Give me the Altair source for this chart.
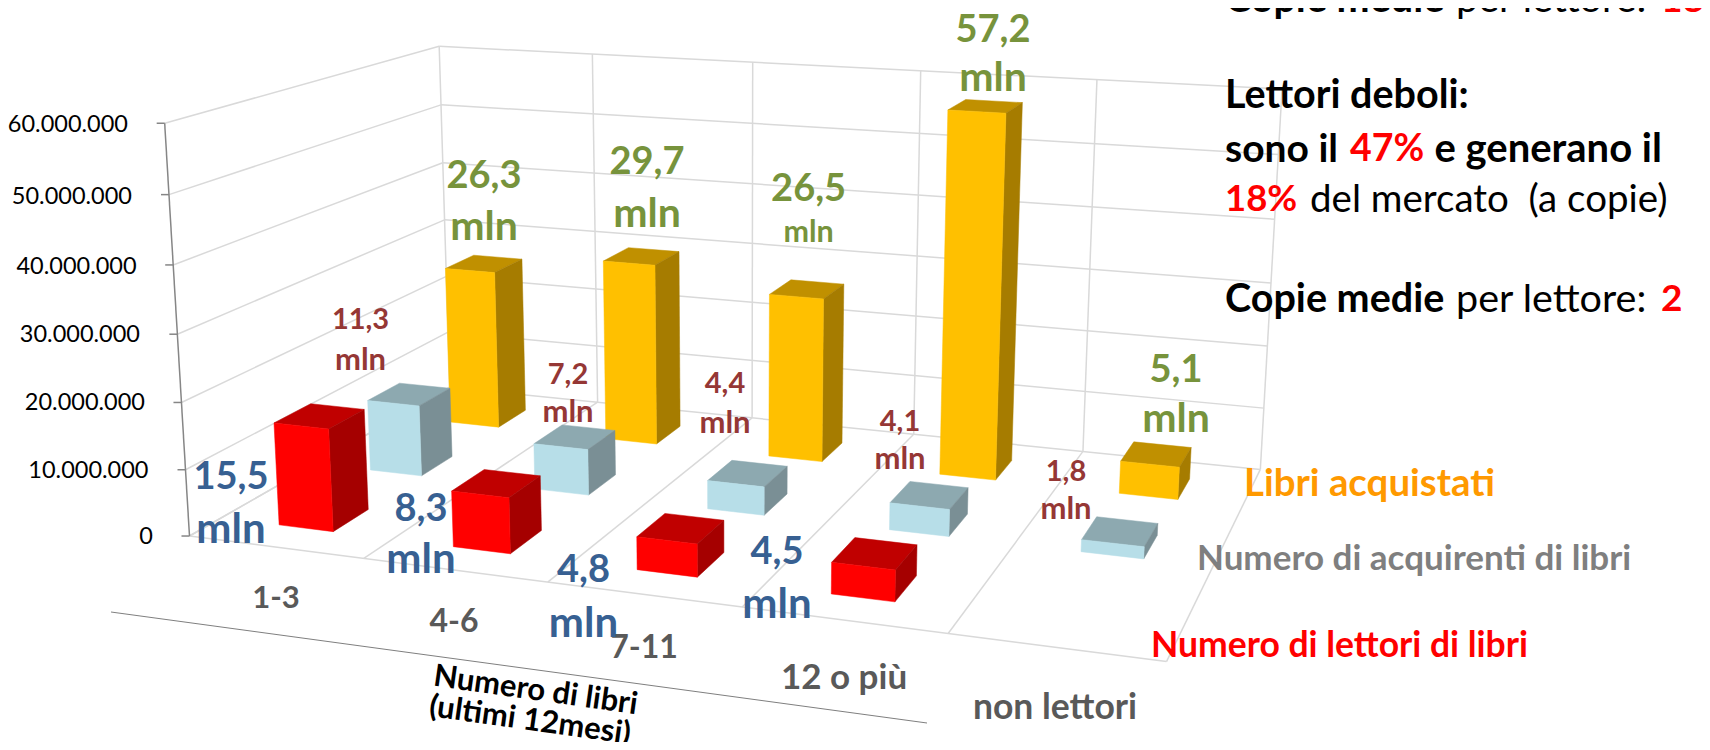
import numpy as np
import pandas as pd
import altair as alt

# ---- data (millions) ----
categories = ["1-3", "4-6", "7-11", "12 o più", "non lettori"]
lettori = [15.5, 8.3, 4.8, 4.5, 0]
acquirenti = [11.3, 7.2, 4.4, 4.1, 1.8]
libri = [26.3, 29.7, 26.5, 57.2, 5.1]
y_ticks = [0, 10, 20, 30, 40, 50, 60]
y_tick_labels = ["0", "10.000.000", "20.000.000", "30.000.000", "40.000.000", "50.000.000", "60.000.000"]

# ---- 3D view: calibrate a projective camera (category, series depth, value) -> page px ----
cal = [
    ((0, 0, 0), (189.5, 536)), ((0, 0, 60), (165, 123)), ((0, 3, 0), (450, 388)), ((0, 3, 60), (439, 46)),
    ((5, 0, 0), (1166, 663)), ((5, 3, 0), (1261, 468)), ((5, 3, 60), (1282, 89)),
    ((1, 0, 0), (363.6, 558)), ((2, 0, 0), (547, 582)), ((3, 0, 0), (743.5, 607)), ((4, 0, 0), (948, 633)),
    ((1, 3, 60), (592, 54)), ((3, 3, 60), (921, 71)), ((4, 3, 60), (1097, 80)),
    ((3, 3, 0), (914, 434)), ((4, 3, 0), (1082, 452)),
]
A, b = [], []
for (u, v, h), (px, py) in cal:
    A.append([u, v, h, 1, 0, 0, 0, 0, -px * u, -px * v, -px * h]); b.append(px)
    A.append([0, 0, 0, 0, u, v, h, 1, -py * u, -py * v, -py * h]); b.append(py)
p = np.linalg.lstsq(np.array(A, float), np.array(b, float), rcond=None)[0]


def proj(u, v, h):
    w = p[8] * u + p[9] * v + p[10] * h + 1
    return (p[0] * u + p[1] * v + p[2] * h + p[3]) / w, (p[4] * u + p[5] * v + p[6] * h + p[7]) / w


# ---- grid ----
rows = []
gid = 0


def seg(a, b_, kind):
    global gid
    gid += 1
    for k, q in enumerate((a, b_)):
        x, y = proj(*q) if len(q) == 3 else q
        rows.append(dict(id=gid, k=k, x=x, y=y, kind=kind))


for t in y_ticks:
    seg((0, 0, t), (0, 3, t), "grid")
    seg((0, 3, t), (5, 3, t), "grid")
for i in range(6):
    seg((i, 3, 0), (i, 3, 60), "grid")
    seg((i, 0, 0), (i, 3, 0), "grid")
seg((0, 0, 0), (5, 0, 0), "grid")
seg((0, 0, 0), (0, 0, 60), "axis")
for t in y_ticks:
    x0, y0 = proj(0, 0, t)
    seg((x0, y0), (x0 - 8, y0), "axis")
seg((111, 612), (927, 723), "title_rule")
lines = pd.DataFrame(rows)


def line_layer(kind, color, w):
    return alt.Chart(lines[lines.kind == kind]).mark_line(color=color, strokeWidth=w).encode(
        x=X, y=Y, detail="id:N", order="k:Q")


X = alt.X("x:Q", scale=alt.Scale(domain=[8, 1702], nice=False, zero=False), axis=None)
Y = alt.Y("y:Q", scale=alt.Scale(domain=[742, 8], nice=False, zero=False), axis=None)

# ---- bars, painted back to front ----
series = [
    (2, libri, ("#FFC000", "#C09000", "#A67C00")),
    (1, acquirenti, ("#B7DEE8", "#8DA9B0", "#7A8F95")),
    (0, lettori, ("#FF0000", "#C00000", "#A50000")),
]
BW, BD = 0.158, 0.19
faces = []
fid = 0
for j, vals, (cf, ct, cs) in series:
    for i, val in enumerate(vals):
        if val <= 0:
            continue
        u0, u1 = i + .5 - BW, i + .5 + BW
        v0, v1 = j + .5 - BD, j + .5 + BD
        for corners, col in (
            ([(u0, v0, val), (u1, v0, val), (u1, v1, val), (u0, v1, val)], ct),
            ([(u1, v0, 0), (u1, v1, 0), (u1, v1, val), (u1, v0, val)], cs),
            ([(u0, v0, 0), (u1, v0, 0), (u1, v0, val), (u0, v0, val)], cf),
        ):
            fid += 1
            for k, c in enumerate(corners + corners[:1]):
                x, y = proj(*c)
                faces.append(dict(id=f"{fid:03d}", k=k, x=x, y=y, col=col))
faces = pd.DataFrame(faces)
bars = alt.Chart(faces).mark_line(strokeWidth=0.5, interpolate="linear").encode(
    x=X, y=Y, detail="id:N", order="k:Q",
    fill=alt.Fill("col:N", scale=None), stroke=alt.Stroke("col:N", scale=None))

# ---- text ----
BLUE, MAROON, GREEN, GRAY = "#376092", "#953735", "#77933C", "#595959"
texts = []


def T(s, x, y, size, color, weight="bold", align="center", style="normal", angle=0):
    texts.append(dict(t=s, x=x, y=y, size=size, color=color, weight=weight, align=align, fstyle=style, angle=angle))


tick_right = [153, 148.5, 145, 140, 136.6, 132, 128]
tick_y = [537, 471, 403, 335, 267, 197, 125]
for s, xr, yy in zip(y_tick_labels, tick_right, tick_y):
    T(s, xr, yy, 23.5, "#000000", "normal", "right")
for s, x, yy, sz in zip(categories, [276, 454, 644, 844, 1055], [599, 622, 648, 678, 708], [31, 32, 32, 35, 35.5]):
    T(s, x, yy, sz, GRAY)


def pair(v, x, y1, y2, size, color, size2):
    T(f"{v:.1f}".replace(".", ","), x, y1, size, color)
    T("mln", x, y2, size2, color)


for v, x, y1, y2, s2 in zip(libri, [484, 647, 808.6, 993, 1176], [177, 163, 190, 31, 371], [228, 215, 233, 79, 420], [41, 41, 30.5, 41, 41]):
    pair(v, x, y1, y2, 38, GREEN, s2)
for v, x, y1, y2 in zip(acquirenti, [360.5, 568, 725, 900, 1066], [320, 375, 384, 422, 472], [361, 413, 424, 460, 510]):
    pair(v, x, y1, y2, 29, MAROON, 31)
for v, x, y1, y2 in zip(lettori[:4], [231, 421, 583.5, 777], [478, 510, 571, 553], [530, 560, 624, 605]):
    pair(v, x, y1, y2, 38, BLUE, 42)

T("Numero di libri", 535.5, 691, 31, "#000000", "bold", "center", "normal", 8)
T("(ultimi 12mesi)", 530, 721, 31, "#000000", "bold", "center", "normal", 8)
T("Libri acquistati", 1244, 484, 38.4, "#FF9900", align="left")
T("Numero di acquirenti di libri", 1197, 559, 35, "#7F7F7F", align="left")
T("Numero di lettori di libri", 1151, 646, 35.5, "#FF0000", align="left")

R = "#FF0000"
K = "#000000"
L = 1225
T("Copie medie", L, 0, 39.5, K, align="left")
T("per lettore:", 1456, 0, 39.5, K, "normal", "left")
T("18", 1661, 1, 37, R, align="left")
T("Lettori deboli:", L, 96, 39.5, K, align="left")
T("sono il", L, 150, 39, K, align="left")
T("47%", 1350, 150, 37.5, R, align="left")
T("e generano il", 1434.5, 150, 40, K, align="left")
T("18%", L, 200, 36.5, R, align="left")
T("del mercato\u00a0\u00a0(a copie)", 1310, 200, 38.5, K, "normal", "left")
T("Copie medie", L, 300, 39.5, K, align="left")
T("per lettore:", 1456, 300, 39.5, K, "normal", "left")
T("2", 1661, 300, 37, R, align="left")

texts = pd.DataFrame(texts)
text_layers = []
for (w, a, st, ang), d in texts.groupby(["weight", "align", "fstyle", "angle"]):
    text_layers.append(
        alt.Chart(d).mark_text(font="Lato", fontWeight=w, align=a, fontStyle=st, angle=ang, baseline="middle").encode(
            x=X, y=Y, text="t:N", size=alt.Size("size:Q", scale=None), color=alt.Color("color:N", scale=None))
    )

chart = alt.layer(
    line_layer("grid", "#D9D9D9", 1.5),
    line_layer("axis", "#868686", 1.5),
    line_layer("title_rule", "#7F7F7F", 1),
    bars,
    *text_layers,
).properties(width=1694, height=734, padding=0, autosize=alt.AutoSizeParams(type="none"), background="#FFFFFF"
).configure_view(stroke=None).resolve_scale(color="independent", size="independent")

chart.save("out.html", embed_options={"renderer": "svg", "actions": False})
